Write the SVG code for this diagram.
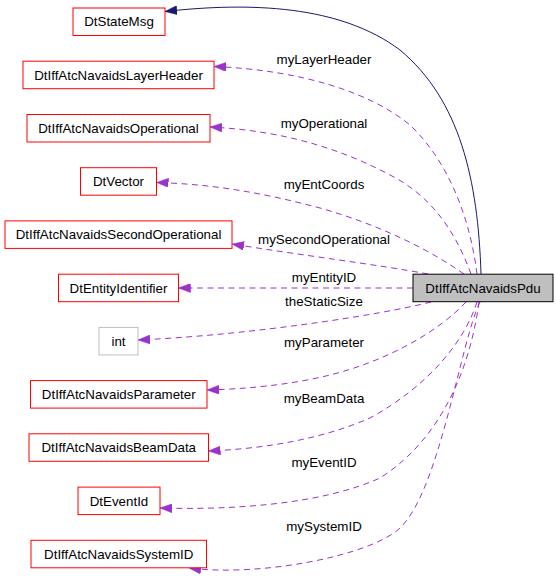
<svg xmlns="http://www.w3.org/2000/svg" width="557" height="579" viewBox="0 0 557 579">
<style>
text{font-family:"Liberation Sans",Arial,sans-serif;font-size:13.33px;fill:#000;text-anchor:middle}
.n rect{fill:#fff;stroke:#ff0000;stroke-width:1}
.g rect{fill:#fff;stroke:#bfbfbf;stroke-width:1}
.m rect{fill:#bfbfbf;stroke:#000;stroke-width:1}
.e{fill:none;stroke:#9a32cd;stroke-width:1;stroke-dasharray:6,4.5;marker-end:url(#ap)}
.s{fill:none;stroke:#191970;stroke-width:1;marker-end:url(#an)}
</style>
<defs>
<marker id="ap" markerUnits="userSpaceOnUse" markerWidth="12" markerHeight="9" refX="12" refY="4.5" orient="auto"><path d="M0,0 L12,4.5 L0,9 z" fill="#9a32cd" stroke="#9a32cd" stroke-width="0.5"/></marker>
<marker id="an" markerUnits="userSpaceOnUse" markerWidth="12" markerHeight="9" refX="12" refY="4.5" orient="auto"><path d="M0,0 L12,4.5 L0,9 z" fill="#191970" stroke="#191970" stroke-width="0.5"/></marker>
</defs>
<g id="edges">
<path class="s" d="M481,274 C478,180 460,100 400,50 C340,5 250,2 165,11.5"/>
<path class="e" d="M477,274 C471,225 452,165 410,125 C370,92 300,70 214,66.5"/>
<path class="e" d="M471,274 C455,230 430,195 390,175 C330,143 270,130 210,127"/>
<path class="e" d="M464,274 C430,250 380,225 320,208 C260,192 210,184 156.5,182.5"/>
<path class="e" d="M428,274 C380,265 300,255 232,244"/>
<path class="e" d="M413,288 L178.5,288"/>
<path class="e" d="M431,302 C380,315 250,335 138,340"/>
<path class="e" d="M466,302 C440,330 390,360 330,375 C290,385 245,389 207,390"/>
<path class="e" d="M477,302 C465,340 430,385 370,418 C320,440 260,449 208.5,451"/>
<path class="e" d="M479,302 C470,370 440,440 380,478 C320,505 230,510 160,508"/>
<path class="e" d="M480,302 C461,340 440,490 400,528 C370,556 260,577 189,568"/>
<text x="324" y="63.5">myLayerHeader</text>
<text x="324" y="127.5">myOperational</text>
<text x="324" y="188.5">myEntCoords</text>
<text x="324" y="243.5">mySecondOperational</text>
<text x="324" y="282">myEntityID</text>
<text x="324" y="306">theStaticSize</text>
<text x="324" y="346.5">myParameter</text>
<text x="324" y="402.5">myBeamData</text>
<text x="324" y="466.5">myEventID</text>
<text x="324" y="530.5">mySystemID</text>
</g>
<g id="DtIffAtcNavaidsPdu" class="m"><rect x="413" y="274.2" width="140" height="27.5"/><text x="483" y="292.6">DtIffAtcNavaidsPdu</text></g>
<g id="DtStateMsg" class="n"><rect x="73" y="8" width="92" height="27.5"/><text x="119" y="26.4">DtStateMsg</text></g>
<g id="DtIffAtcNavaidsLayerHeader" class="n"><rect x="23" y="61.2" width="191" height="27.5"/><text x="118.5" y="79.6">DtIffAtcNavaidsLayerHeader</text></g>
<g id="DtIffAtcNavaidsOperational" class="n"><rect x="27" y="114.5" width="183" height="27.5"/><text x="118.5" y="132.9">DtIffAtcNavaidsOperational</text></g>
<g id="DtVector" class="n"><rect x="80.5" y="167.7" width="76" height="27.5"/><text x="118.5" y="186.1">DtVector</text></g>
<g id="DtIffAtcNavaidsSecondOperational" class="n"><rect x="5" y="220.9" width="227" height="27.5"/><text x="118.5" y="239.3">DtIffAtcNavaidsSecondOperational</text></g>
<g id="DtEntityIdentifier" class="n"><rect x="58.5" y="274.2" width="120" height="27.5"/><text x="118.5" y="292.6">DtEntityIdentifier</text></g>
<g id="int" class="g"><rect x="99" y="327.4" width="39" height="27.5"/><text x="118.5" y="345.8">int</text></g>
<g id="DtIffAtcNavaidsParameter" class="n"><rect x="30.5" y="380.6" width="176.5" height="27.5"/><text x="118.75" y="399">DtIffAtcNavaidsParameter</text></g>
<g id="DtIffAtcNavaidsBeamData" class="n"><rect x="29" y="433.8" width="179.5" height="27.5"/><text x="118.75" y="452.2">DtIffAtcNavaidsBeamData</text></g>
<g id="DtEventId" class="n"><rect x="78" y="487.1" width="82" height="27.5"/><text x="119" y="505.5">DtEventId</text></g>
<g id="DtIffAtcNavaidsSystemID" class="n"><rect x="31" y="540.3" width="175.5" height="27.5"/><text x="118.75" y="558.7">DtIffAtcNavaidsSystemID</text></g>
</svg>
